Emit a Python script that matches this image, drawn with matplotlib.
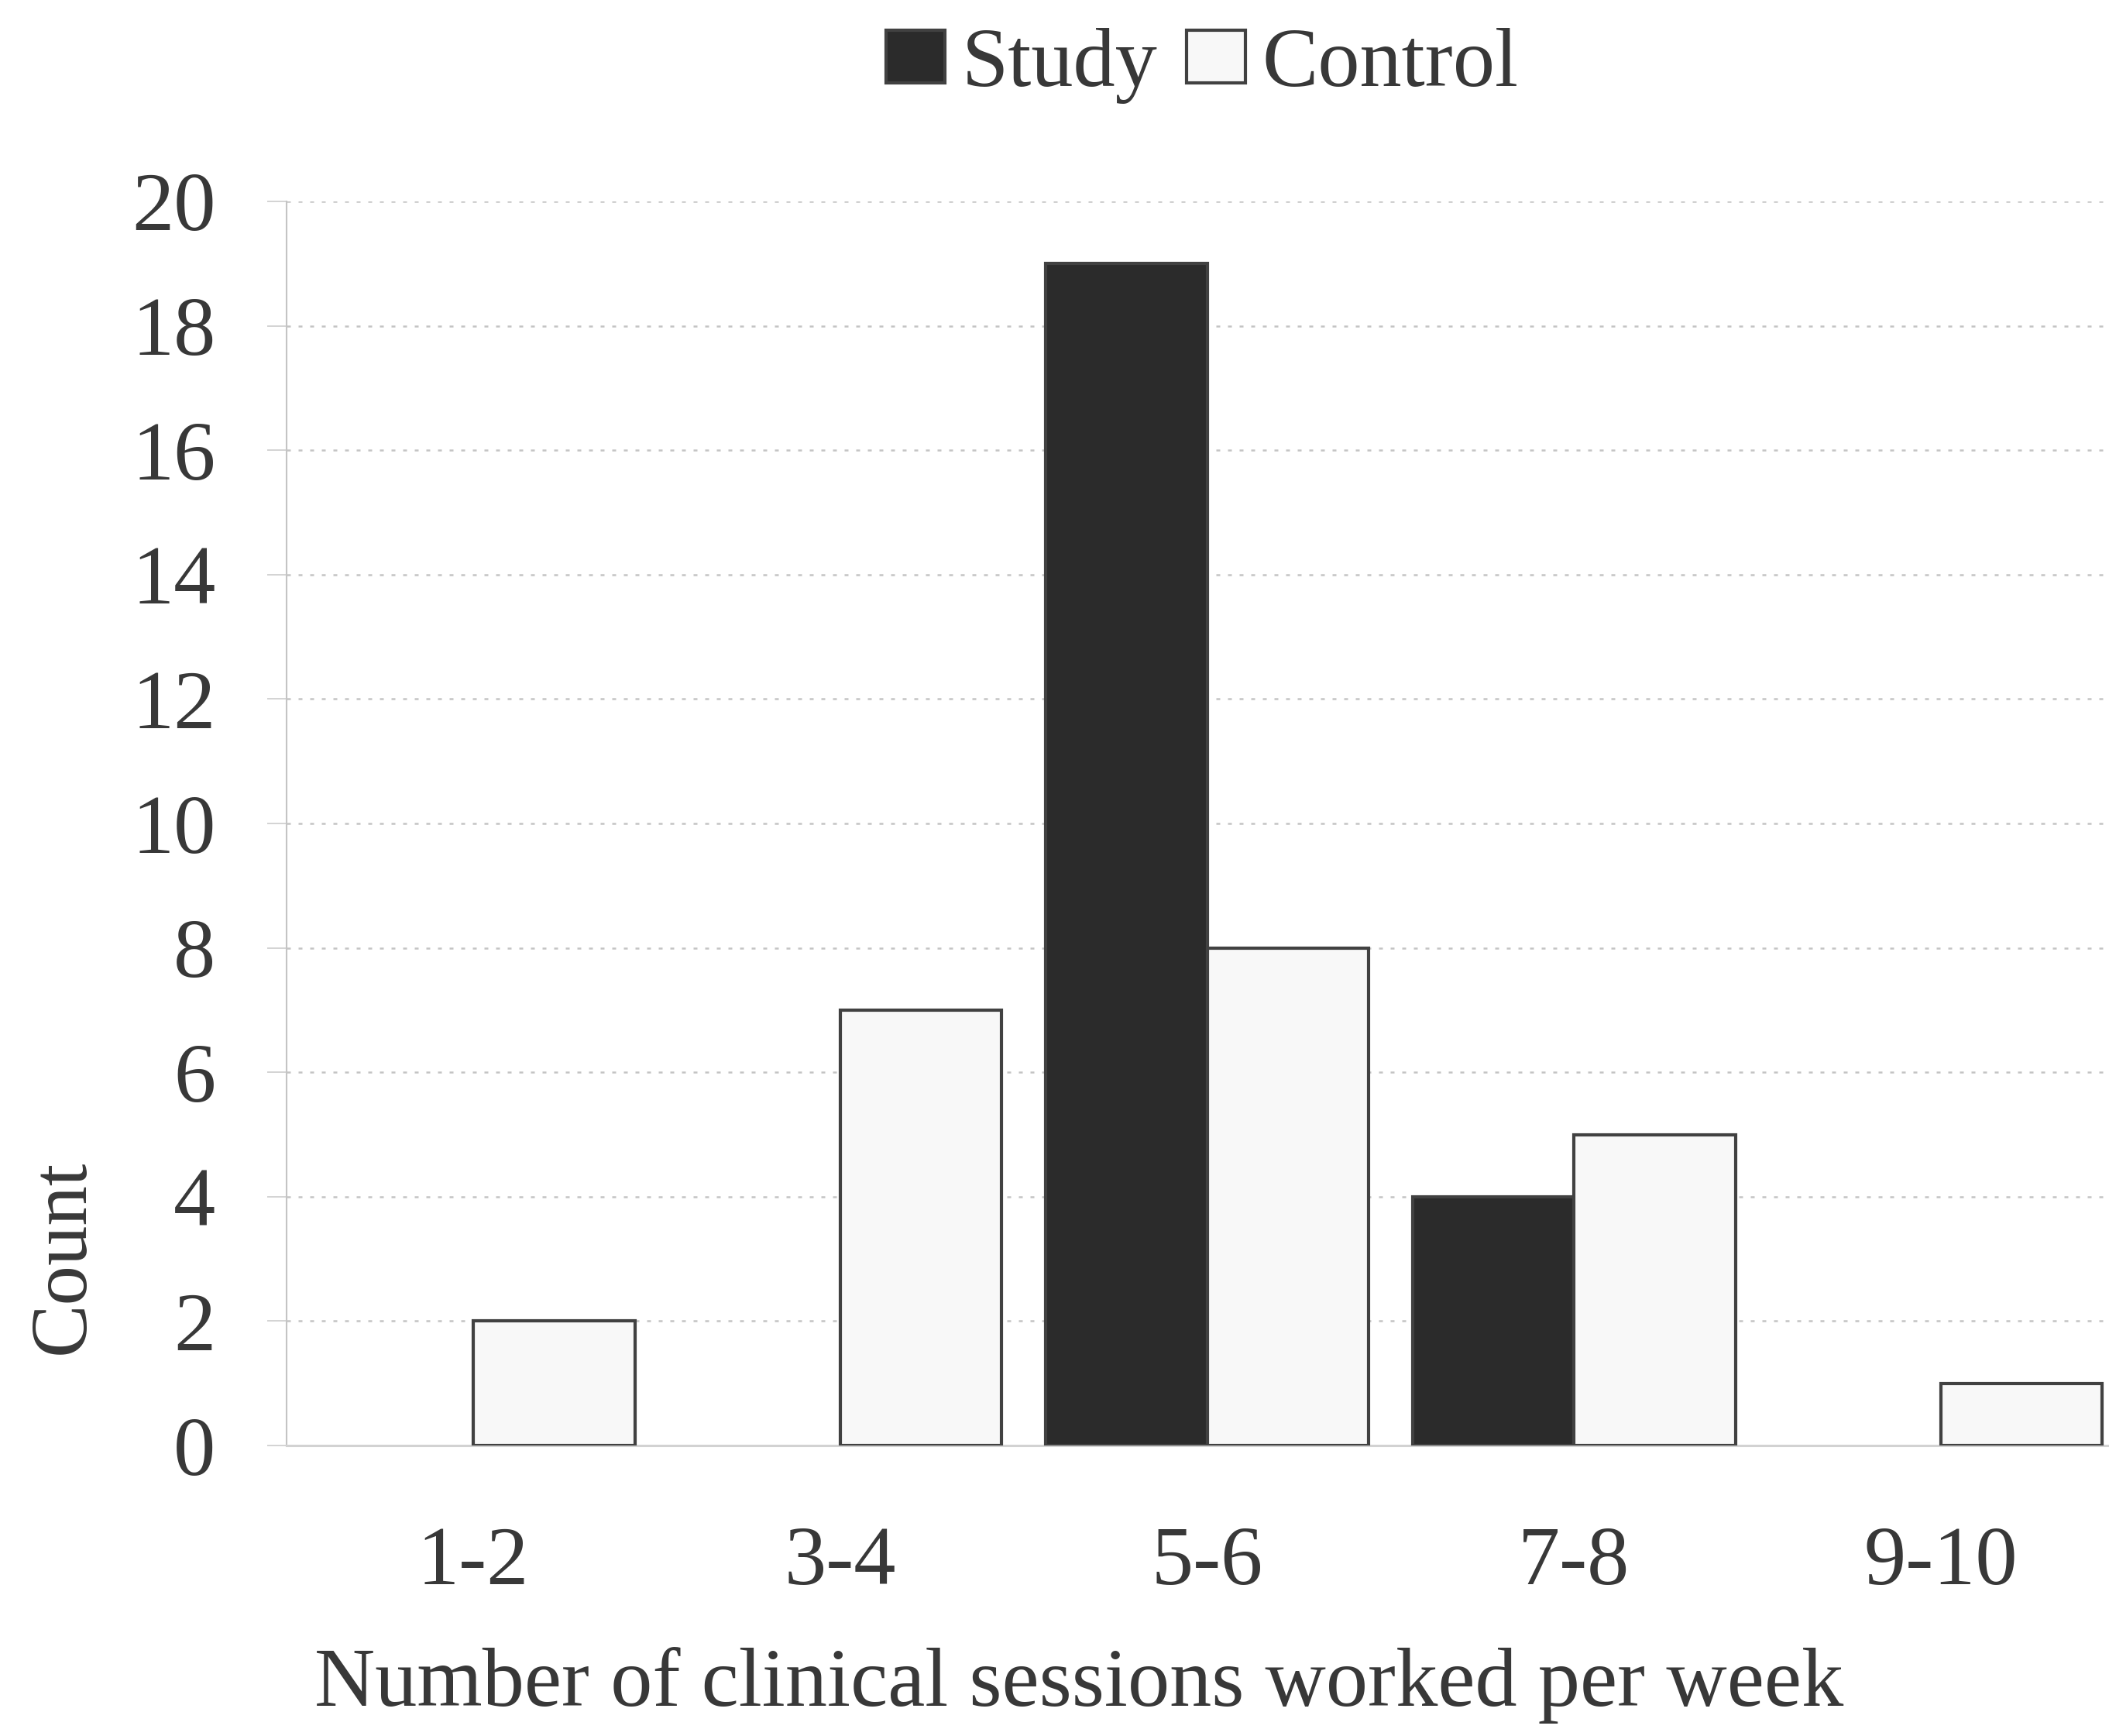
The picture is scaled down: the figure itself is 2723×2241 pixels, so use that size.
import matplotlib
matplotlib.use("Agg")
import matplotlib.pyplot as plt
import numpy as np

plt.rcParams["font.family"] = ["Liberation Serif", "DejaVu Serif"]

CATEGORIES = ["1-2", "3-4", "5-6", "7-8", "9-10"]
STUDY = [0, 0, 19, 4, 0]
CONTROL = [2, 7, 8, 5, 1]
Y_TICKS = [0, 2, 4, 6, 8, 10, 12, 14, 16, 18, 20]

TEXT_COLOR = "#383838"
STUDY_COLOR = "#2b2b2b"
CONTROL_COLOR = "#f8f8f8"
EDGE_COLOR = "#414141"
GRID_COLOR = "#c4c4c4"

FS = 78

fig = plt.figure(figsize=(27.23, 22.41), dpi=100)
# axes runs off the right-hand edge of the figure
ax = fig.add_axes([0.1359, 0.1673, 0.8641, 0.7167])

x = np.arange(len(CATEGORIES))
w = 0.44
# no outline on empty bars
study_lw = [3 if v else 0 for v in STUDY]
control_lw = [3 if v else 0 for v in CONTROL]
ax.bar(x - w / 2, STUDY, width=w, color=STUDY_COLOR, edgecolor=EDGE_COLOR,
       linewidth=study_lw, label="Study", zorder=3)
ax.bar(x + w / 2, CONTROL, width=w, color=CONTROL_COLOR, edgecolor=EDGE_COLOR,
       linewidth=control_lw, label="Control", zorder=3)

ax.set_xlim(-0.509, 4.458)
ax.set_ylim(0, 20)
ax.set_yticks(Y_TICKS)
ax.set_xticks(x)
ax.set_xticklabels(CATEGORIES)

# dotted horizontal gridlines
ax.yaxis.grid(True, color=GRID_COLOR, linestyle=(0, (2, 4)), linewidth=1.8, zorder=0)
ax.set_axisbelow(True)

for side in ("top", "right"):
    ax.spines[side].set_visible(False)
ax.spines["left"].set_color("#c4c4c4")
ax.spines["left"].set_linewidth(1.5)
ax.spines["bottom"].set_color("#d2d2d2")
ax.spines["bottom"].set_linewidth(2.2)

ax.tick_params(axis="y", length=18, width=1.3, color="#d0d0d0", pad=48,
               labelsize=FS, labelcolor=TEXT_COLOR)
ax.tick_params(axis="x", length=0, pad=75, labelsize=FS, labelcolor=TEXT_COLOR)

ax.set_xlabel("Number of clinical sessions worked per week", fontsize=FS,
              color=TEXT_COLOR, va="baseline")
ax.xaxis.set_label_coords(0.435, -0.209)
ax.set_ylabel("Count", fontsize=74, color=TEXT_COLOR, va="center", ha="center")
ax.yaxis.set_label_coords(-0.122, 0.152)

leg = fig.legend(loc="center", bbox_to_anchor=(0.570, 0.962), ncol=2, frameon=False,
                 fontsize=FS, handlelength=0.7, handleheight=0.6, handletextpad=0.2,
                 columnspacing=0.35, labelcolor=TEXT_COLOR)
for h in leg.legend_handles:
    h.set_linewidth(3)

fig.savefig("out.png", dpi=100, facecolor="white")
